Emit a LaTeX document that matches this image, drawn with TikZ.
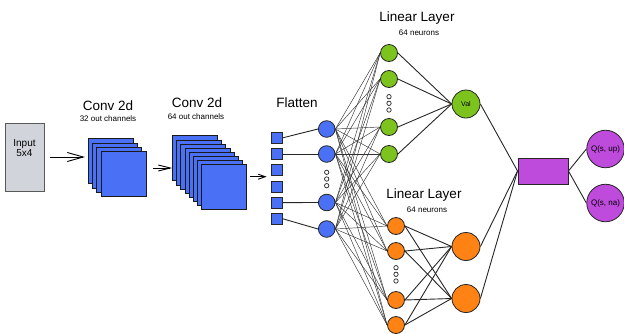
\documentclass[tikz,border=0pt]{standalone}
\usepackage{fontspec}
\setmainfont{Liberation Sans}
\usetikzlibrary{arrows.meta}
\definecolor{inputgray}{RGB}{209,213,219}
\definecolor{convblue}{RGB}{74,112,245}
\definecolor{linegreen}{RGB}{125,195,30}
\definecolor{lineorange}{RGB}{255,130,20}
\definecolor{outpurple}{RGB}{190,75,220}

\begin{document}
\begin{tikzpicture}[x=1pt,y=-1pt,
  fmap/.style={draw=black!90, line width=0.65pt, fill=convblue, minimum size=45pt, inner sep=0pt},
  flat/.style={draw=black!85, line width=0.8pt, fill=convblue, minimum size=11pt, inner sep=0pt},
  neuron/.style={circle, draw=black!85, line width=0.8pt, inner sep=0pt, minimum size=#1},
  gap/.style={circle, draw=black!85, line width=0.7pt, fill=white, inner sep=0pt, minimum size=4.4pt},
  title/.style={anchor=base, font=\fontsize{13.5}{14}\selectfont},
  sub/.style={anchor=base, font=\fontsize{8}{9}\selectfont},
  wire/.style={line width=0.9pt, black!85},
  thinwire/.style={line width=0.45pt, black!80}]
\useasboundingbox (0,0) rectangle (624,333);

% input grid
\node[draw=black!65, line width=1pt, fill=inputgray, minimum width=39pt, minimum height=68pt] (input) at (24.5,157) {};
\node[align=center, font=\fontsize{10}{10}\selectfont] (intext) at ([yshift=9pt]input.center) {Input\\5x4};

% first convolution, 4 feature maps
\foreach \i in {0,...,3}
  \node[fmap] (c1-\i) at (110.5+4.33*\i,161+4.33*\i) {};
\node[title] (c1title) at (108,110) {Conv 2d};
\node[sub] (c1sub) at (108,121.5) {32 out channels};

% second convolution, 8 feature maps
\foreach \i in {0,...,7}
  \node[fmap] (c2-\i) at (195+4.15*\i,158.3+4.03*\i) {};
\node[title] (c2title) at (197,107.3) {Conv 2d};
\node[sub] (c2sub) at (196,119.3) {64 out channels};

% flatten
\foreach \i in {1,...,6}
  \node[flat] (f\i) at (277,121.6+16.2*\i) {};
\node[title] (ftitle) at (297,107.3) {Flatten};

\draw[-{Straight Barb[length=16pt,width=9pt]}, line width=0.9pt, shorten <=5pt, shorten >=2.7pt]
  (input.east) -- (input.east -| c1-0.west);
\draw[-{Straight Barb[length=12pt,width=6pt]}, line width=0.9pt, shorten <=6.5pt]
  ([yshift=6pt]c1-3.east) -- ([yshift=6pt]c1-3.east -| c2-0.west);
\draw[-{Straight Barb[length=7pt,width=5pt]}, line width=0.9pt, shorten <=3.3pt, shorten >=4.5pt]
  ([yshift=9.8pt]c2-7.east) -- ([yshift=9.8pt]c2-7.east -| f1.west);

\foreach \i/\y in {1/129,2/154,3/202.5,4/229}
  \node[neuron=16.6pt, fill=convblue] (b\i) at (326.7,\y) {};
\foreach \i/\y in {1/172.3,2/179,3/185.7}
  \node[gap] (bd\i) at (326.7,\y) {};

% value stream
\foreach \i/\y in {1/53,2/79,3/127,4/154}
  \node[neuron=17pt, fill=linegreen] (g\i) at (389,\y) {};
\foreach \i/\y in {1/96.7,2/103.3,3/110}
  \node[gap] (gd\i) at (389,\y) {};
\node[title] (gtitle) at (417,21.7) {Linear Layer};
\node[sub] (gsub) at (419,35) {64 neurons};
\node[neuron=28pt, fill=linegreen, font=\fontsize{7}{8}\selectfont] (val) at (466,104) {Val};

% advantage stream
\foreach \i/\y in {1/226,2/251,3/300,4/325}
  \node[neuron=17pt, fill=lineorange] (o\i) at (396,\y) {};
\foreach \i/\y in {1/267.7,2/274.3,3/281}
  \node[gap] (od\i) at (396,\y) {};
\node[title] (otitle) at (424,198.5) {Linear Layer};
\node[sub] (osub) at (427,212.3) {64 neurons};
\node[neuron=28pt, fill=lineorange] (h1) at (466,246.5) {};
\node[neuron=28pt, fill=lineorange] (h2) at (466,298.5) {};

% aggregation and outputs
\node[draw=black!85, line width=0.9pt, fill=outpurple, minimum width=50pt, minimum height=26pt, inner sep=0pt] (agg) at (543,171) {};
\node[neuron=37.5pt, fill=outpurple, font=\fontsize{8}{9}\selectfont] (q1) at (605.5,149) {Q(s, up)};
\node[neuron=37.5pt, fill=outpurple, font=\fontsize{8}{9}\selectfont] (q2) at (605.5,203) {Q(s, na)};

% connections
\foreach \i/\j in {1/1,2/2,5/3,6/4}
  \draw[wire] (f\i.east) -- (b\j.west);
\foreach \i in {1,...,4}
  \foreach \j in {1,...,4} {
    \draw[thinwire] (b\i.east) -- (g\j.west);
    \draw[thinwire] (b\i.east) -- (o\j.west);
  }
\foreach \j in {1,...,4} {
  \draw[wire] (g\j.east) -- (val.west);
  \draw[wire] (o\j.east) -- (h1.west);
  \draw[wire] (o\j.east) -- (h2.west);
}
\foreach \n in {val,h1,h2}
  \draw[wire] (\n.east) -- (agg.west);
\draw[wire] (agg.east) -- (q1.west);
\draw[wire] (agg.east) -- (q2.west);

\end{tikzpicture}
\end{document}
